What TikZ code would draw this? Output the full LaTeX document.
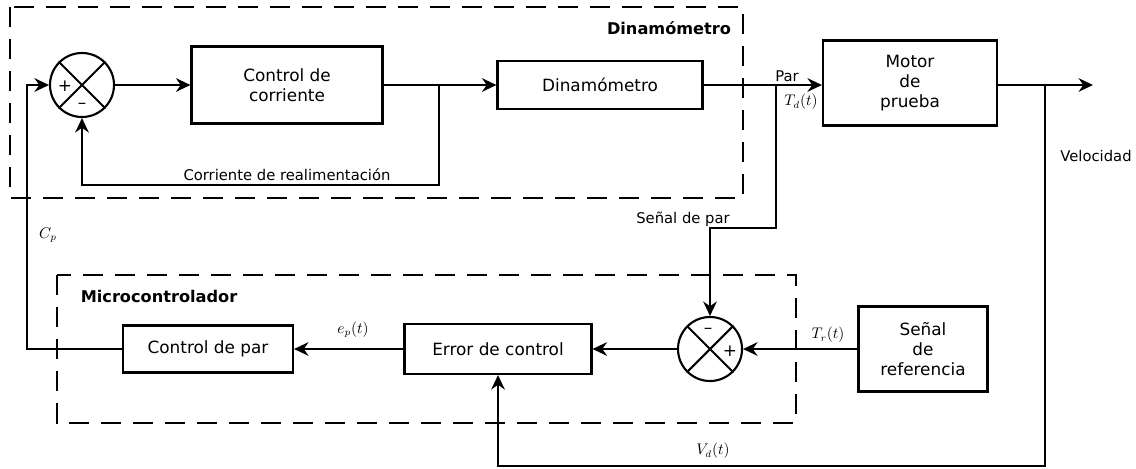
\documentclass[tikz,border=0pt]{standalone}
\usepackage{fontspec}
\setmainfont{DejaVu Sans}
\usetikzlibrary{arrows.meta}

\newcommand{\blockfont}{\fontsize{12}{14.5}\selectfont}
\newcommand{\labelfont}{\fontsize{10.5}{12}\selectfont}
\newcommand{\titlefont}{\fontsize{11.5}{13}\selectfont\bfseries}

\begin{document}
\begin{tikzpicture}[x=0.025cm, y=-0.025cm]
\tikzstyle{block} = [rectangle, draw=black, line width=1.5pt, align=center, font=\blockfont, inner sep=0pt]
\tikzstyle{sum}   = [circle, draw=black, line width=1.5pt, minimum size=1.6cm, inner sep=0pt]
\tikzstyle{wire}  = [line width=1.5pt]
\tikzstyle{arrow} = [line width=1.5pt, -{Stealth[length=3.6mm, width=3.4mm]}]
\tikzstyle{group} = [line width=1.5pt, dash pattern=on 5mm off 3mm]
\tikzstyle{lbl}   = [font=\labelfont, inner sep=1pt]
\tikzstyle{title} = [font=\titlefont, inner sep=1pt]

\useasboundingbox (0,0) rectangle (1136,468);

% groups
\draw [group] (10,7)  rectangle (743,198);
\draw [group] (57,275) rectangle (796,423);
\node (dynotitle)  [title] at (669,28)  {Dinam\'ometro};
\node (microtitle) [title] at (159,296) {Microcontrolador};

% blocks
\node (sum1)     [sum]                                          at (82,85)  {};
\node (ctrlcorr) [block, minimum width=4.775cm, minimum height=1.925cm] at (287,85)  {Control de\\corriente};
\node (dyno)     [block, minimum width=5.125cm, minimum height=1.2cm]   at (600,85)  {Dinam\'ometro};
\node (motor)    [block, minimum width=4.35cm,  minimum height=2.125cm] at (910,83)  {Motor\\de\\prueba};
\node (sum2)     [sum]                                          at (710,349) {};
\node (errctrl)  [block, minimum width=4.675cm, minimum height=1.25cm]  at (498,349) {Error de control};
\node (ctrlpar)  [block, minimum width=4.25cm,  minimum height=1.175cm] at (208,349) {Control de par};
\node (sigref)   [block, minimum width=3.225cm, minimum height=2.125cm] at (923,349) {Se\~nal\\de\\referencia};

% crosses and signs
\draw [wire] (sum1.north east) -- (sum1.south west);
\draw [wire] (sum1.north west) -- (sum1.south east);
\draw [wire] (sum2.north east) -- (sum2.south west);
\draw [wire] (sum2.north west) -- (sum2.south east);
\node (sum1plus)  [font=\blockfont] at (65,86)  {+};
\node (sum1minus) [font=\blockfont] at (82,106) {--};
\node (sum2minus) [font=\blockfont] at (708,331) {--};
\node (sum2plus)  [font=\blockfont] at (730,351) {+};

% points
\coordinate (tap1)   at (439,85);
\coordinate (tap2)   at (776,85);
\coordinate (tap3)   at (1045,85);
\coordinate (out)    at (1093,85);
\coordinate (fb1)    at (439,185);
\coordinate (fb2)    at (776,228);
\coordinate (fb3)    at (1045,466);
\coordinate (cpdown) at (27,349);

% connectors
\draw [arrow] (sum1) -- (ctrlcorr);
\draw [arrow] (ctrlcorr) -- (dyno);
\draw [arrow] (tap1) -- (fb1) -| (sum1.south);
\draw [arrow] (dyno.east) -- (motor.west |- dyno.east);
\draw [arrow] (motor.east |- out) -- (out);
\draw [arrow] (tap2) -- (fb2) -| (sum2.north);
\draw [arrow] (tap3) -- (fb3) -| (errctrl.south);
\draw [arrow] (sigref) -- (sum2);
\draw [arrow] (sum2) -- (errctrl);
\draw [arrow] (errctrl) -- (ctrlpar);
\draw [arrow] (ctrlpar.west) -- (cpdown) |- (sum1.west);

% labels
\node (corrlbl) [lbl] at (287,175) {Corriente de realimentaci\'on};
\node (parlbl)  [lbl] at (787,76)  {Par};
\node (tdlbl)   [lbl] at (801,102) {$T_d(t)$};
\node (sparlbl) [lbl] at (683,219) {Se\~nal de par};
\node (vellbl)  [lbl] at (1096,156) {Velocidad};
\node (cplbl)   [lbl] at (48,235)  {$C_p$};
\node (eplbl)   [lbl] at (353,330) {$e_p(t)$};
\node (trlbl)   [lbl] at (828,335) {$T_r(t)$};
\node (vdlbl)   [lbl] at (713,451) {$V_d(t)$};
\end{tikzpicture}
\end{document}
